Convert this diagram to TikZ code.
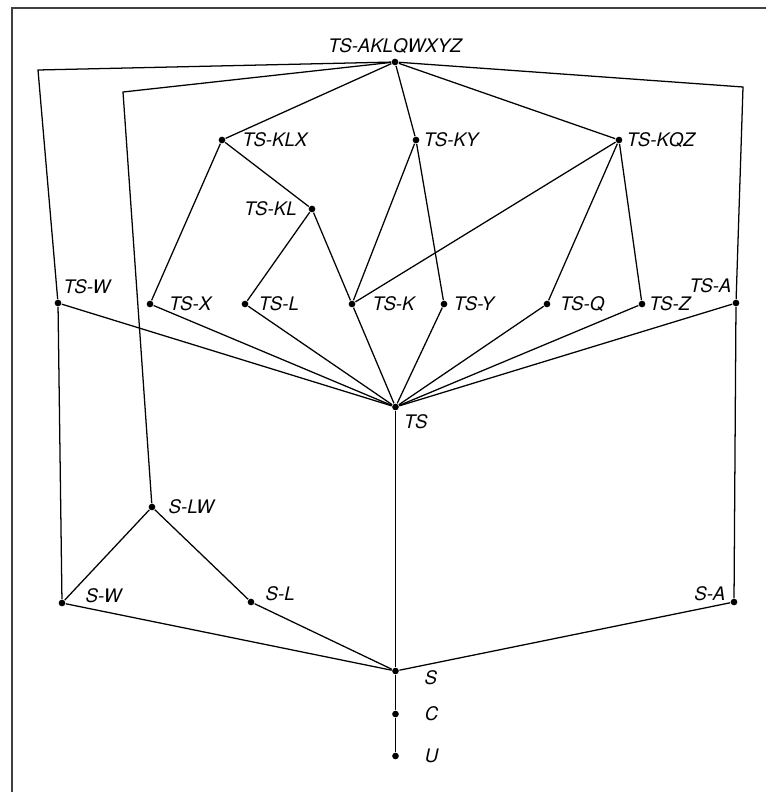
\documentclass[tikz,border=0pt]{standalone}
\usepackage{fontspec}
\setmainfont{TeX Gyre Heros}

\tikzset{
  dot/.style={circle,fill,inner sep=0pt,minimum size=5pt},
  lbl/.style={inner sep=0pt,font=\itshape\fontsize{14}{16}\selectfont},
}

\begin{document}
\begin{tikzpicture}[x=0.75pt,y=-0.75pt,line width=0.95pt]
\useasboundingbox (0,0) rectangle (766,792);
\draw[line width=1.1pt,black!75] (12,800) -- (12,8) -- (800,8);

% top
\node[dot] (all) at (395,62) {};
\node[lbl, above of=all, anchor=south, node distance=6pt] (l-all) {TS-AKLQWXYZ};

% second row
\node[dot] (klx) at (222,140) {};
\node[lbl, right of=klx, anchor=west, node distance=15pt] (l-klx) {TS-KLX};
\node[dot] (ky) at (416,140) {};
\node[lbl, right of=ky, anchor=west, node distance=5.5pt] (l-ky) {TS-KY};
\node[dot] (kqz) at (619,140) {};
\node[lbl, right of=kqz, anchor=west, node distance=5.5pt] (l-kqz) {TS-KQZ};
\node[dot] (kl) at (312,209) {};
\node[lbl, left of=kl, anchor=east, node distance=11pt] (l-kl) {TS-KL};

% single letters
\node[dot] (tsw) at (58,303) {};
\node[lbl, anchor=south west] (l-tsw) at ([shift={(5,-9)}]tsw) {TS-W};
\node[dot] (tsx) at (150,304) {};
\node[lbl, right of=tsx, anchor=west, node distance=14pt] (l-tsx) {TS-X};
\node[dot] (tsl) at (245,304) {};
\node[lbl, right of=tsl, anchor=west, node distance=10pt] (l-tsl) {TS-L};
\node[dot] (tsk) at (352,304) {};
\node[lbl, right of=tsk, anchor=west, node distance=15pt] (l-tsk) {TS-K};
\node[dot] (tsy) at (444,304) {};
\node[lbl, right of=tsy, anchor=west, node distance=7pt] (l-tsy) {TS-Y};
\node[dot] (tsq) at (547,304) {};
\node[lbl, right of=tsq, anchor=west, node distance=9.5pt] (l-tsq) {TS-Q};
\node[dot] (tsz) at (642,304) {};
\node[lbl, right of=tsz, anchor=west, node distance=5pt] (l-tsz) {TS-Z};
\node[dot] (tsa) at (736,303) {};
\node[lbl, anchor=south east] (l-tsa) at ([shift={(-4,-10)}]tsa) {TS-A};

\node[dot] (ts) at (395.5,407) {};
\node[lbl, anchor=north west] (l-ts) at ([shift={(8,7)}]ts) {TS};

% lower part
\node[dot] (slw) at (152,507) {};
\node[lbl, right of=slw, anchor=west, node distance=12pt] (l-slw) {S-LW};
\node[dot] (sw) at (62,603) {};
\node[lbl, anchor=west] (l-sw) at ([shift={(23,-7)}]sw) {S-W};
\node[dot] (sl) at (251,602) {};
\node[lbl, anchor=west] (l-sl) at ([shift={(14,-8)}]sl) {S-L};
\node[dot] (sa) at (734,602) {};
\node[lbl, anchor=east] (l-sa) at ([shift={(-8,-8)}]sa) {S-A};
\node[dot] (s) at (395.5,671) {};
\node[lbl, anchor=west] (l-s) at ([shift={(28.5,7)}]s) {S};
\node[dot] (c) at (395.5,714) {};
\node[lbl, right of=c, anchor=west, node distance=21.5pt] (l-c) {C};
\node[dot] (u) at (395.5,756) {};
\node[lbl, right of=u, anchor=west, node distance=21.5pt] (l-u) {U};

% bends
\coordinate (bw) at (38,70);
\coordinate (blw) at (123,92);
\coordinate (ba) at (743,87);

\draw (all) -- (bw) -- (tsw);
\draw (all) -- (blw) -- (slw);
\draw (all) -- (ba) -- (tsa);
\draw (all) -- (klx);
\draw (all) -- (ky);
\draw (all) -- (kqz);

\draw (klx) -- (tsx);
\draw (klx) -- (kl);
\draw (kl) -- (tsl);
\draw (kl) -- (tsk);
\draw (ky) -- (tsk);
\draw (ky) -- (tsy);
\draw (kqz) -- (tsk);
\draw (kqz) -- (tsq);
\draw (kqz) -- (tsz);

\foreach \n in {tsw,tsx,tsl,tsk,tsy,tsq,tsz,tsa}
  \draw (\n) -- (ts);

\draw (ts) -- (s);
\draw (tsw) -- (sw);
\draw (tsa) -- (sa);
\draw (slw) -- (sw);
\draw (slw) -- (sl);
\draw (sw) -- (s);
\draw (sl) -- (s);
\draw (sa) -- (s);
\draw (s) -- (c) -- (u);
\end{tikzpicture}
\end{document}
